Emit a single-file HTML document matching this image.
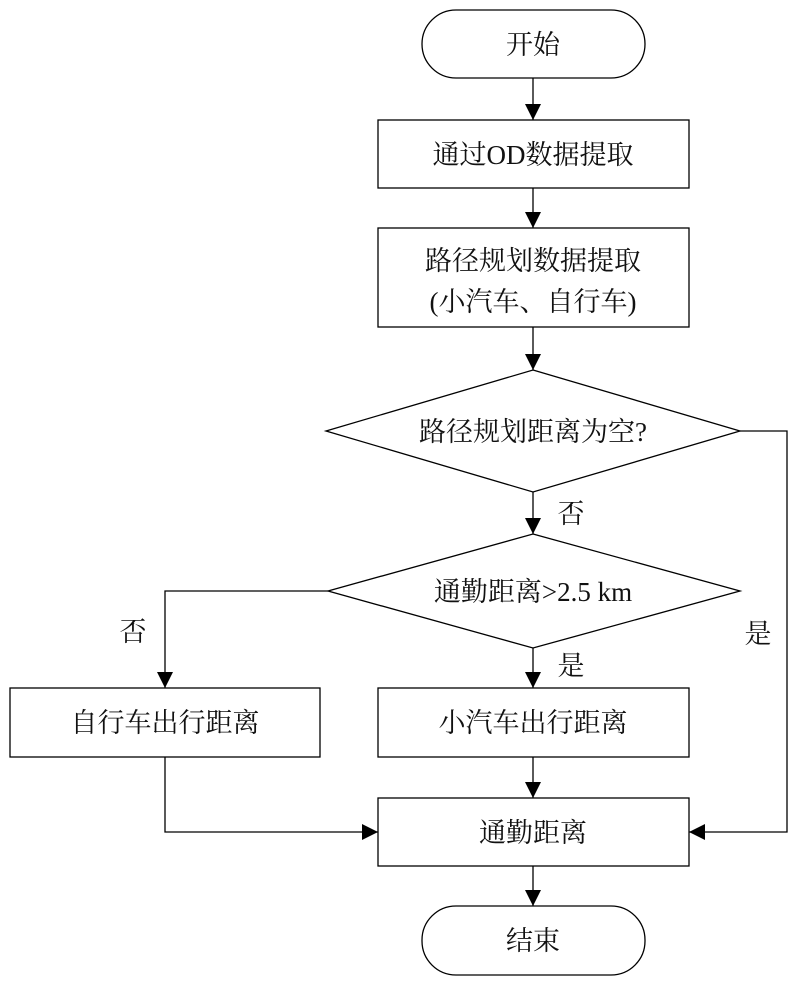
<!DOCTYPE html>
<html><head><meta charset="utf-8"><style>
html,body{margin:0;padding:0;background:#fff;}
svg text{font-family:"Liberation Serif","Noto Serif CJK SC",serif;font-size:27px;fill:#111;}
</style></head><body>
<svg width="800" height="986" xmlns="http://www.w3.org/2000/svg">
<defs><marker id="a" markerWidth="10" markerHeight="10" refX="9" refY="5" orient="auto" markerUnits="userSpaceOnUse"><path d="M0,0 L10,5 L0,10 Z" fill="#000"/></marker>
<marker id="b" viewBox="0 0 16 20" markerWidth="16" markerHeight="20" refX="16" refY="10" orient="auto" markerUnits="userSpaceOnUse"><path d="M0,2 L16,10 L0,18 Z" fill="#000"/></marker></defs>
<g fill="none" stroke="#000" stroke-width="1.3">
<rect x="422" y="10" width="223" height="68" rx="34"/>
<rect x="378" y="120" width="311" height="68"/>
<rect x="378" y="228" width="311" height="99"/>
<polygon points="533,370 740,431 533,492 326,431"/>
<polygon points="533,534 740,591 533,648 328,591"/>
<rect x="10" y="688" width="310" height="69"/>
<rect x="378" y="688" width="311" height="69"/>
<rect x="378" y="798" width="311" height="68"/>
<rect x="422" y="906" width="223" height="69" rx="34"/>
<line x1="533" y1="78" x2="533" y2="120" marker-end="url(#b)"/>
<line x1="533" y1="188" x2="533" y2="228" marker-end="url(#b)"/>
<line x1="533" y1="327" x2="533" y2="370" marker-end="url(#b)"/>
<line x1="533" y1="492" x2="533" y2="534" marker-end="url(#b)"/>
<line x1="533" y1="648" x2="533" y2="688" marker-end="url(#b)"/>
<line x1="533" y1="757" x2="533" y2="798" marker-end="url(#b)"/>
<line x1="533" y1="866" x2="533" y2="906" marker-end="url(#b)"/>
<polyline points="328,591 165,591 165,688" marker-end="url(#b)"/>
<polyline points="165,757 165,832 378,832" marker-end="url(#b)"/>
<polyline points="740,431 787,431 787,832 689,832" marker-end="url(#b)"/>
</g>
<g text-anchor="middle">
<text x="533" y="54">开始</text>
<text x="533" y="164">通过OD数据提取</text>
<text x="533" y="270">路径规划数据提取</text>
<text x="533" y="311">(小汽车、自行车)</text>
<text x="533" y="441">路径规划距离为空?</text>
<text x="533" y="601">通勤距离&gt;2.5 km</text>
<text x="165" y="732">自行车出行距离</text>
<text x="533" y="732">小汽车出行距离</text>
<text x="533" y="842">通勤距离</text>
<text x="533" y="950">结束</text>
<text x="571" y="523">否</text>
<text x="571" y="675">是</text>
<text x="133" y="641">否</text>
<text x="758" y="643">是</text>
</g>
</svg>
</body></html>
